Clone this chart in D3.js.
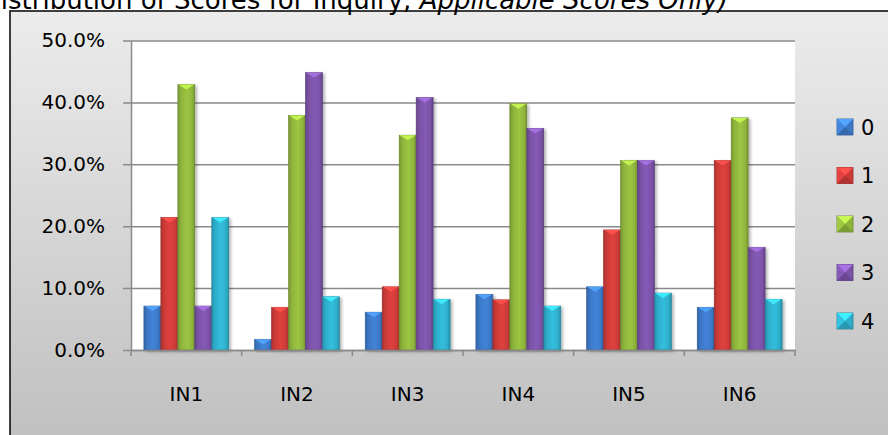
<!DOCTYPE html>
<html>
  <head>
    <meta charset="utf-8">
    <title>Distribution of Scores for Inquiry</title>
    <script src="https://d3js.org/d3.v7.min.js"></script>
    <style>
      body { margin: 0; background: #fff; }
      svg { display: block; font-family: "DejaVu Sans", sans-serif; }
    </style>
  </head>
  <body>
    <script>
        // data (percent)
        var categories = ["IN1", "IN2", "IN3", "IN4", "IN5", "IN6"]
        var series = ["0", "1", "2", "3", "4"]
        var score0 = [7.1, 1.7, 6.1, 9.0, 10.2, 6.9]
        var score1 = [21.4, 6.9, 10.2, 8.1, 19.4, 30.6]
        var score2 = [42.9, 37.9, 34.7, 39.8, 30.6, 37.5]
        var score3 = [7.1, 44.8, 40.8, 35.8, 30.6, 16.6]
        var score4 = [21.4, 8.6, 8.2, 7.1, 9.2, 8.2]
        var yTicks = [0, 0.1, 0.2, 0.3, 0.4, 0.5]
        var colors = ["#3c78c6", "#cc3b38", "#8fb43c", "#7a52a6", "#2eaecb"]

        var values = [score0, score1, score2, score3, score4]
        var data = categories.map(function(c, i) {
          return { cat: c, vals: series.map(function(s, j) { return { key: s, idx: j, value: values[j][i] / 100 }; }) };
        });

        var W = 888, H = 435
        var plot = {left: 131, right: 795, top: 40.5, bottom: 350}

        var svg = d3.select("body").append("svg")
            .attr("width", W)
            .attr("height", H);

        var defs = svg.append("defs");

        var bg = defs.append("linearGradient").attr("id", "bg")
            .attr("x1", 0).attr("y1", 0).attr("x2", 0).attr("y2", 1);
        bg.append("stop").attr("offset", "0%").attr("stop-color", "#ececec");
        bg.append("stop").attr("offset", "100%").attr("stop-color", "#bdbdbd");

        colors.forEach(function(c, i) {
          var g = defs.append("linearGradient").attr("id", "bar" + i)
              .attr("x1", 0).attr("y1", 0).attr("x2", 1).attr("y2", 0);
          var base = d3.color(c);
          g.append("stop").attr("offset", "0%").attr("stop-color", base.darker(0.5));
          g.append("stop").attr("offset", "20%").attr("stop-color", base);
          g.append("stop").attr("offset", "55%").attr("stop-color", base.brighter(0.25));
          g.append("stop").attr("offset", "85%").attr("stop-color", base);
          g.append("stop").attr("offset", "100%").attr("stop-color", base.darker(0.6));
        });

        var shadow = defs.append("filter").attr("id", "shadow")
            .attr("x", "-30%").attr("y", "-10%").attr("width", "160%").attr("height", "130%");
        shadow.append("feDropShadow").attr("dx", 2).attr("dy", 1.5)
            .attr("stdDeviation", 1.5).attr("flood-color", "#000").attr("flood-opacity", 0.3);

        // chart frame (right and bottom edges run off the picture)
        svg.append("rect")
            .attr("x", 10).attr("y", 11)
            .attr("width", W + 20).attr("height", H + 20)
            .attr("fill", "url(#bg)")
            .attr("stroke", "#111").attr("stroke-width", 1.6);

        // title, cut off at the top and left like the original
        var title = svg.append("text")
            .attr("x", 728).attr("y", 9)
            .attr("text-anchor", "end")
            .attr("font-size", "26px")
            .attr("fill", "#000");
        title.append("tspan").text("(Distribution of Scores for Inquiry, ");
        title.append("tspan").attr("font-style", "italic").text("Applicable Scores Only)");

        var x0 = d3.scaleBand()
            .domain(categories)
            .range([plot.left, plot.right])
            .padding(0);

        var x1 = d3.scaleBand()
            .domain(series)
            .range([0, x0.bandwidth()])
            .paddingInner(0)
            .paddingOuter(0.76);

        var y = d3.scaleLinear()
            .domain([0, 0.5])
            .range([plot.bottom, plot.top]);

        // plot area
        svg.append("rect")
            .attr("x", plot.left).attr("y", plot.top)
            .attr("width", plot.right - plot.left).attr("height", plot.bottom - plot.top)
            .attr("fill", "#fff");

        // gridlines + y axis
        var yAxis = svg.append("g")
            .attr("transform", "translate(" + plot.left + ",0)")
            .call(d3.axisLeft(y).tickValues(yTicks).tickFormat(d3.format(".1%"))
              .tickSizeInner(-(plot.right - plot.left)).tickSizeOuter(0).tickPadding(26));
        yAxis.select(".domain").attr("stroke", "#8a8a8a").attr("stroke-width", 1.5);
        yAxis.selectAll(".tick line").attr("stroke", "#8a8a8a").attr("stroke-width", 1.5)
            .attr("x1", -8);
        yAxis.selectAll(".tick text")
            .attr("font-size", "20px")
            .attr("font-family", "DejaVu Sans, sans-serif")
            .attr("fill", "#000")
            .attr("x", -26);

        // bars
        var groups = svg.append("g").selectAll("g")
            .data(data)
            .join("g")
            .attr("transform", function(d) { return "translate(" + x0(d.cat) + ",0)"; });

        var bars = groups.selectAll("g")
            .data(function(d) { return d.vals; })
            .join("g");

        bars.append("rect")
            .attr("x", function(d) { return x1(d.key); })
            .attr("y", function(d) { return y(d.value); })
            .attr("width", x1.bandwidth())
            .attr("height", function(d) { return y(0) - y(d.value); })
            .attr("fill", function(d) { return "url(#bar" + d.idx + ")"; })
            .attr("stroke", function(d) { return d3.color(colors[d.idx]).darker(0.8); })
            .attr("stroke-width", 0.6)
            .attr("filter", "url(#shadow)");

        // bevelled top caps
        bars.append("path")
            .attr("d", function(d) {
              var bx = x1(d.key), bw = x1.bandwidth(), by = y(d.value), cap = Math.min(5, y(0) - by);
              return "M" + (bx + 0.5) + "," + by + "L" + (bx + bw - 0.5) + "," + by +
                     "L" + (bx + bw / 2) + "," + (by + cap) + "Z";
            })
            .attr("fill", function(d) { return d3.color(colors[d.idx]).brighter(0.9); })
            .attr("opacity", 0.9);

        // x axis
        var xAxis = svg.append("g")
            .attr("transform", "translate(0," + plot.bottom + ")")
            .call(d3.axisBottom(x0).tickSize(0).tickPadding(37));
        xAxis.select(".domain").attr("stroke", "#8a8a8a").attr("stroke-width", 1.5);
        xAxis.selectAll(".tick text")
            .attr("font-size", "20px")
            .attr("font-family", "DejaVu Sans, sans-serif")
            .attr("fill", "#000");
        xAxis.selectAll(".sep")
            .data(d3.range(categories.length + 1))
            .join("line")
            .attr("class", "sep")
            .attr("x1", function(i) { return plot.left + i * x0.step(); })
            .attr("x2", function(i) { return plot.left + i * x0.step(); })
            .attr("y1", 0).attr("y2", 6)
            .attr("stroke", "#8a8a8a").attr("stroke-width", 1.5);

        // legend
        var legend = svg.append("g").selectAll("g")
            .data(series)
            .join("g")
            .attr("transform", function(d, i) { return "translate(837," + (127 + i * 48.5) + ")"; });

        legend.each(function(d, i) {
          var g = d3.select(this), c = d3.color(colors[i]), s = 16, h = s / 2;
          g.append("rect").attr("x", 0).attr("y", -h).attr("width", s).attr("height", s)
              .attr("fill", c).attr("stroke", c.darker(0.9)).attr("stroke-width", 0.8);
          g.append("path").attr("d", "M0," + (-h) + "L" + s + "," + (-h) + "L" + h + ",0Z")
              .attr("fill", c.brighter(0.9));
          g.append("path").attr("d", "M0," + h + "L" + s + "," + h + "L" + h + ",0Z")
              .attr("fill", c.darker(0.4));
          g.append("path").attr("d", "M0," + (-h) + "L0," + h + "L" + h + ",0Z")
              .attr("fill", c.brighter(0.3));
        });

        legend.append("text")
            .attr("x", 24)
            .attr("dy", "0.36em")
            .attr("font-size", "21px")
            .attr("fill", "#000")
            .text(function(d) { return d; });
    </script>
  </body>
</html>
